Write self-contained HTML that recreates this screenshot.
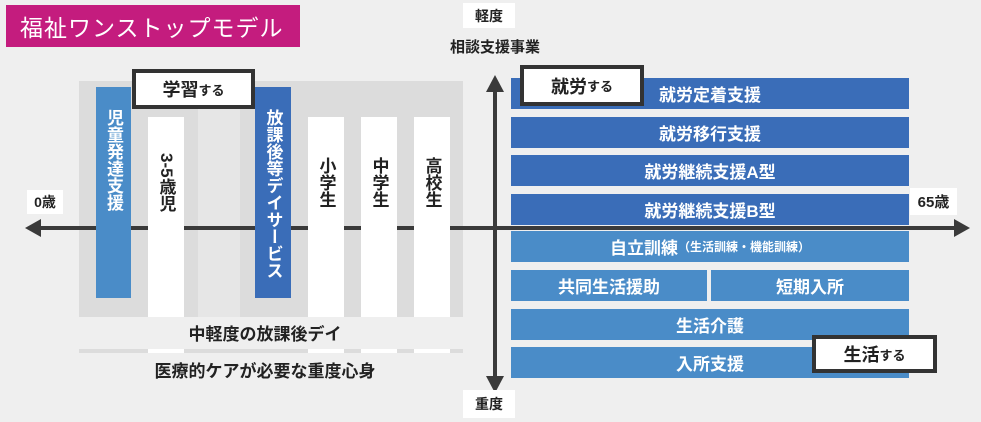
<!DOCTYPE html>
<html><head><meta charset="utf-8"><style>
body{margin:0;width:981px;height:422px;background:#efefef;position:relative;overflow:hidden;font-family:"Liberation Sans","Noto Sans CJK JP",sans-serif;font-weight:bold;}
div{position:absolute;box-sizing:border-box;}
.v{writing-mode:vertical-rl;text-orientation:upright;font-size:17px;display:flex;align-items:center;justify-content:flex-start;}
.w{background:#fff;color:#222;}
.bar{left:511px;width:398px;height:31px;color:#fff;font-size:17px;display:flex;align-items:center;justify-content:center;}
.d{background:#3a6db8;}.l{background:#4a8cc8;}
.box{background:#fff;border:4px solid #333;font-size:18px;display:flex;align-items:center;justify-content:center;color:#222;}
.box small{font-size:13px;}
.lab{background:#fff;font-size:14px;display:flex;align-items:center;justify-content:center;color:#222;}
</style></head><body>
<div style="left:6px;top:5px;width:294px;height:42px;background:#c41c7e;color:#fff;font-size:23px;font-weight:normal;display:flex;align-items:center;padding-left:14px;letter-spacing:1px">福祉ワンストップモデル</div>
<div style="left:79px;top:81px;width:384px;height:236px;background:#dcdcdc"></div>
<div style="left:198px;top:81px;width:42px;height:236px;background:#e6e6e6"></div>
<div style="left:79px;top:349px;width:384px;height:4px;background:#dcdcdc"></div>
<div style="left:36px;top:226px;width:926px;height:4px;background:#3a3a3a"></div>
<svg style="position:absolute;left:0;top:0" width="981" height="422"><polygon points="25,228 41,219 41,237" fill="#3a3a3a"/><polygon points="970,228 954,219 954,237" fill="#3a3a3a"/><polygon points="495,75 486,92 504,92" fill="#3a3a3a"/><polygon points="495,393 486,376 504,376" fill="#3a3a3a"/></svg>
<div style="left:493px;top:88px;width:4px;height:292px;background:#3a3a3a"></div>
<div class="v" style="left:96px;top:87px;width:35px;height:211px;background:#4a8cc8;color:#fff;padding-top:22px">児童発達支援</div>
<div class="v w" style="left:148px;top:117px;width:36px;height:200px;padding-top:36px"><span style="text-orientation:sideways">3-5</span>歳児</div>
<div class="v" style="left:255px;top:87px;width:36px;height:211px;background:#3a6db8;color:#fff;padding-top:22px">放課後等デイサービス</div>
<div class="v w" style="left:308px;top:117px;width:36px;height:200px;padding-top:40px">小学生</div>
<div class="v w" style="left:361px;top:117px;width:36px;height:200px;padding-top:40px">中学生</div>
<div class="v w" style="left:414px;top:117px;width:36px;height:200px;padding-top:40px">高校生</div>
<div style="left:148px;top:349px;width:36px;height:4px;background:#fff"></div>
<div style="left:308px;top:349px;width:36px;height:4px;background:#fff"></div>
<div style="left:361px;top:349px;width:36px;height:4px;background:#fff"></div>
<div style="left:414px;top:349px;width:36px;height:4px;background:#fff"></div>
<div class="box" style="left:132px;top:69px;width:123px;height:40px">学習<small>する</small></div>
<div style="left:79px;top:320px;width:372px;text-align:center;font-size:17px;color:#222">中軽度の放課後デイ</div>
<div style="left:79px;top:357px;width:372px;text-align:center;font-size:17px;color:#222">医療的ケアが必要な重度心身</div>
<div class="lab" style="left:27px;top:190px;width:36px;height:24px">0歳</div>
<div class="lab" style="left:910px;top:188px;width:47px;height:27px;font-size:15px">65歳</div>
<div class="lab" style="left:463px;top:3px;width:52px;height:25px">軽度</div>
<div class="lab" style="left:463px;top:390px;width:52px;height:28px">重度</div>
<div style="left:400px;top:36px;width:190px;text-align:center;font-size:15px;color:#222">相談支援事業</div>
<div class="bar d" style="top:78px">就労定着支援</div>
<div class="bar d" style="top:117px">就労移行支援</div>
<div class="bar d" style="top:155px">就労継続支援A型</div>
<div class="bar d" style="top:194px;height:31px">就労継続支援B型</div>
<div class="bar l" style="top:231px">自立訓練<span style="font-size:12px">（生活訓練・機能訓練）</span></div>
<div class="bar l" style="top:270px;width:196px">共同生活援助</div>
<div class="bar l" style="top:270px;left:711px;width:198px">短期入所</div>
<div class="bar l" style="top:309px">生活介護</div>
<div class="bar l" style="top:347px">入所支援</div>
<div class="box" style="left:520px;top:65px;width:124px;height:41px">就労<small>する</small></div>
<div class="box" style="left:812px;top:335px;width:125px;height:38px">生活<small>する</small></div>
</body></html>
